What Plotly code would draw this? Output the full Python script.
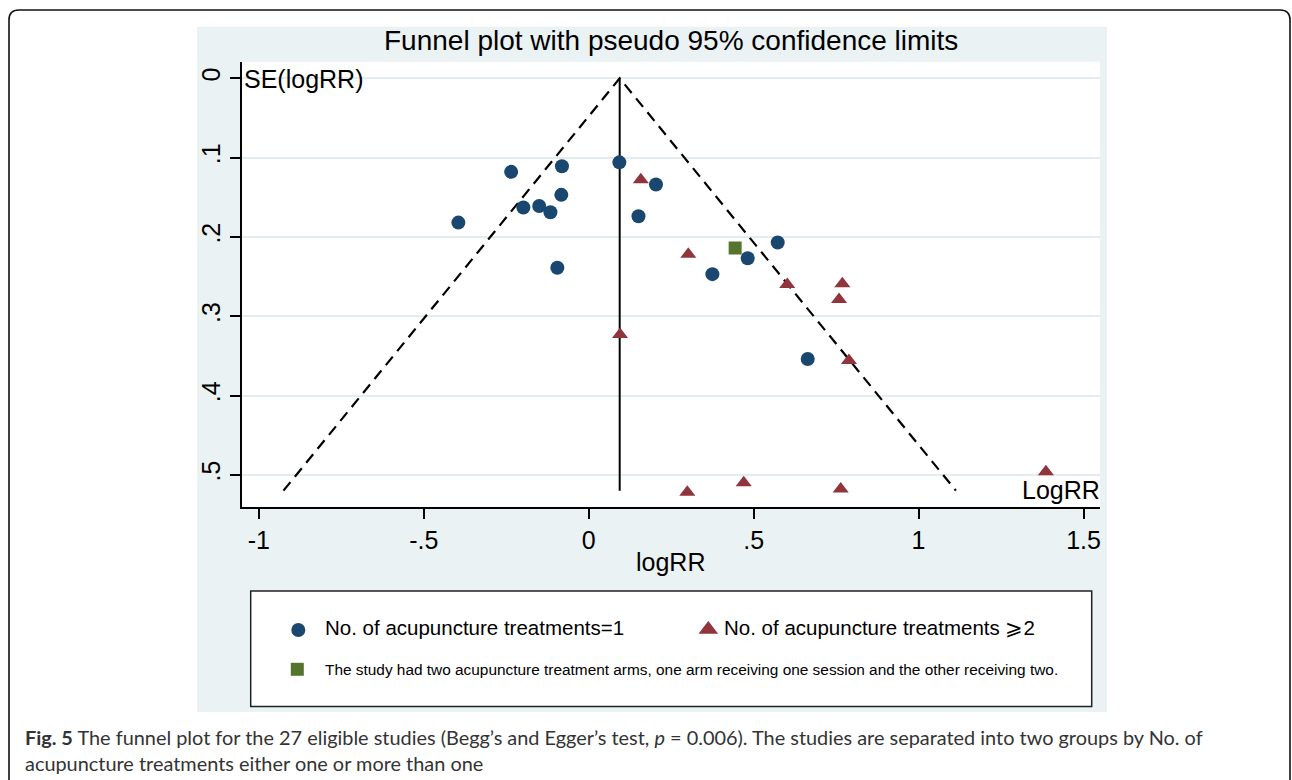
import plotly.graph_objects as go

W, H = 1292, 780

# ---------------- data ----------------
one_logrr = [-0.235, -0.081, 0.093, -0.083, -0.198, -0.150, -0.116, -0.395,
             -0.095, 0.204, 0.151, 0.482, 0.573, 0.375, 0.664]
one_se = [0.118, 0.111, 0.106, 0.147, 0.163, 0.161, 0.169, 0.182,
          0.239, 0.134, 0.174, 0.227, 0.207, 0.247, 0.354]
multi_logrr = [0.158, 0.302, 0.602, 0.769, 0.759, 0.095, 0.789,
               0.299, 0.470, 0.764, 1.386]
multi_se = [0.128, 0.222, 0.260, 0.259, 0.279, 0.323, 0.356,
            0.522, 0.510, 0.518, 0.496]
mixed_logrr = [0.444]
mixed_se = [0.214]
pooled_logrr = 0.094
max_se = 0.52
z95 = 1.96

x_ticks = [-1, -0.5, 0, 0.5, 1, 1.5]
x_tick_labels = ["-1", "-.5", "0", ".5", "1", "1.5"]
y_ticks = [0, 0.1, 0.2, 0.3, 0.4, 0.5]
y_tick_labels = ["0", ".1", ".2", ".3", ".4", ".5"]

title_text = "Funnel plot with pseudo 95% confidence limits"
legend_labels = ["No. of acupuncture treatments=1",
                 "No. of acupuncture treatments \u2A7E2",
                 "The study had two acupuncture treatment arms, one arm receiving one session and the other receiving two."]
caption_line1 = ("<b>Fig. 5</b> The funnel plot for the 27 eligible studies (Begg\u2019s and Egger\u2019s test, "
                 "<i>p</i> = 0.006). The studies are separated into two groups by No. of")
caption_line2 = "acupuncture treatments either one or more than one"

NAVY = "#1a476f"
MAROON = "#90353b"
GREEN = "#55752f"
BG = "#eaf2f3"
GRID = "#e3ecef"
FONT = "Liberation Sans, Arial, sans-serif"
CAP_FONT = "Lato, sans-serif"


def px(x):
    return x / W


def py(y):
    return 1 - y / H


fig = go.Figure()

# funnel limits
fig.add_trace(go.Scatter(
    x=[pooled_logrr - z95 * max_se, pooled_logrr, pooled_logrr + z95 * max_se],
    y=[max_se, 0, max_se], mode="lines",
    line=dict(color="black", width=2.2, dash="11px,7px"), hoverinfo="skip"))
fig.add_trace(go.Scatter(
    x=[pooled_logrr, pooled_logrr], y=[0, max_se], mode="lines",
    line=dict(color="black", width=2), hoverinfo="skip"))

# studies
fig.add_trace(go.Scatter(x=one_logrr, y=one_se, mode="markers",
                         marker=dict(symbol="circle", size=14, color=NAVY, line=dict(width=0))))
fig.add_trace(go.Scatter(x=multi_logrr, y=multi_se, mode="markers",
                         marker=dict(symbol="triangle-up", size=14, color=MAROON, line=dict(width=0))))
fig.add_trace(go.Scatter(x=mixed_logrr, y=mixed_se, mode="markers",
                         marker=dict(symbol="square", size=13, color=GREEN, line=dict(width=0))))

# legend keys on a full-figure pixel overlay axis
fig.add_trace(go.Scatter(x=[298.3], y=[630], xaxis="x2", yaxis="y2", mode="markers",
                         marker=dict(symbol="circle", size=14, color=NAVY), hoverinfo="skip"))
fig.add_trace(go.Scatter(x=[708.3], y=[629.5], xaxis="x2", yaxis="y2", mode="markers",
                         marker=dict(symbol="triangle-up", size=17, color=MAROON), hoverinfo="skip"))
fig.add_trace(go.Scatter(x=[297.3], y=[669.3], xaxis="x2", yaxis="y2", mode="markers",
                         marker=dict(symbol="square", size=13, color=GREEN), hoverinfo="skip"))

# plot area geometry (pixels)
PL, PR, PT, PB = 242, 1100, 61.7, 507
y_range = [0.5406, -0.0209]

fig.update_layout(
    width=W, height=H, showlegend=False,
    margin=dict(l=0, r=0, t=0, b=0, pad=0),
    paper_bgcolor="white", plot_bgcolor="rgba(0,0,0,0)",
    font=dict(family=FONT, color="black"),
    xaxis=dict(domain=[px(PL), px(PR)], range=[-1.0509, 1.55], anchor="y",
               showline=True, linecolor="black", linewidth=1.5,
               ticks="outside", ticklen=10, tickwidth=1.5, tickcolor="black",
               tickvals=x_ticks, ticktext=x_tick_labels,
               tickfont=dict(size=25, family=FONT, color="black"),
               showgrid=False, zeroline=False, fixedrange=True),
    yaxis=dict(domain=[py(PB), py(PT)], range=y_range, anchor="x",
               showline=True, linecolor="black", linewidth=1.5,
               ticks="outside", ticklen=10, tickwidth=1.5, tickcolor="black",
               tickvals=y_ticks, ticktext=y_tick_labels, tickangle=-90,
               tickfont=dict(size=25, family=FONT, color="black"),
               showgrid=True, gridcolor=GRID, gridwidth=1.5,
               zeroline=False, fixedrange=True),
    xaxis2=dict(domain=[0, 1], range=[0, W], anchor="y2", visible=False, fixedrange=True),
    yaxis2=dict(domain=[0, 1], range=[H, 0], anchor="x2", visible=False, fixedrange=True),
)

shapes = [
    # outer article frame
    dict(type="path", xref="paper", yref="paper",
         path=(f"M {px(9)},{py(781)} L {px(9)},{py(20)} Q {px(9)},{py(10)} {px(19)},{py(10)} "
               f"L {px(1280)},{py(10)} Q {px(1290)},{py(10)} {px(1290)},{py(20)} L {px(1290)},{py(781)}"),
         line=dict(color="#111", width=1.6), layer="below"),
    # graph region background
    dict(type="rect", xref="paper", yref="paper", x0=px(197), x1=px(1107), y0=py(712), y1=py(26.7),
         fillcolor=BG, line=dict(width=0), layer="below"),
    # plot region
    dict(type="rect", xref="paper", yref="paper", x0=px(PL), x1=px(PR), y0=py(PB), y1=py(PT),
         fillcolor="white", line=dict(width=0), layer="below"),
    # legend box
    dict(type="rect", xref="paper", yref="paper", x0=px(250.7), x1=px(1091.7), y0=py(706.5), y1=py(591),
         fillcolor="white", line=dict(color="#222", width=1.5), layer="below"),
]
fig.update_layout(shapes=shapes)

ann = []


def add_text(text, x, y, size, xanchor="left", family=FONT, color="black"):
    ann.append(dict(text=text, x=px(x), y=py(y), xref="paper", yref="paper",
                    xanchor=xanchor, yanchor="middle", showarrow=False,
                    font=dict(size=size, family=family, color=color), borderpad=0))


add_text(title_text, 671, 40, 28, "center")
add_text("SE(logRR)", 243, 79, 25, "left")
add_text("LogRR", 1101, 490, 25, "right")
add_text("logRR", 670, 562, 25, "center")
add_text(legend_labels[0], 324, 627, 20.5, "left")
add_text(legend_labels[1], 723, 627, 20.5, "left")
add_text(legend_labels[2], 324, 669, 15.4, "left")
add_text(caption_line1, 24, 737, 19.9, "left", CAP_FONT, "#333333")
add_text(caption_line2, 24, 763, 19.9, "left", CAP_FONT, "#333333")
fig.update_layout(annotations=ann)

fig.write_html("out.html", config={"displayModeBar": False},
               post_script="document.body.style.margin='0';document.body.style.overflow='hidden';")
